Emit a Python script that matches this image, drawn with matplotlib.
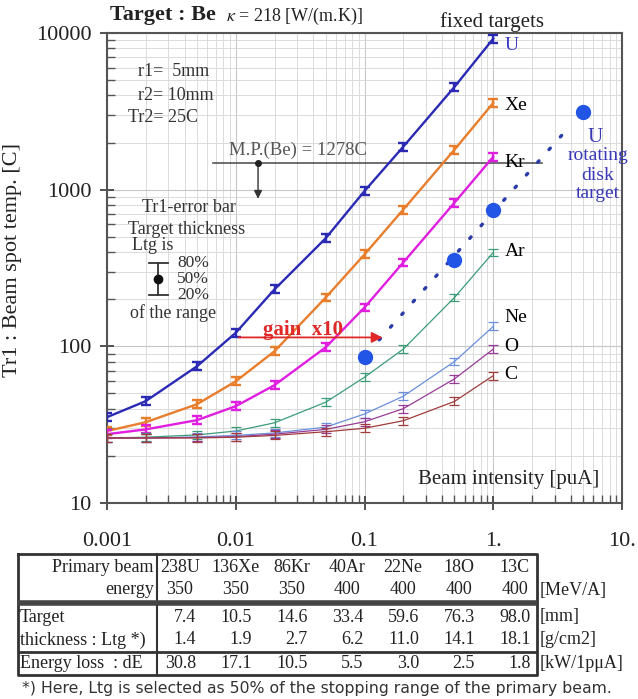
import numpy as np
import matplotlib
matplotlib.use('Agg')
import matplotlib.pyplot as plt
from matplotlib.patches import Rectangle
from matplotlib.ticker import LogLocator, NullFormatter, FixedLocator, FixedFormatter

plt.rcParams['font.family'] = ['Liberation Serif', 'DejaVu Serif']
plt.rcParams['mathtext.fontset'] = 'stix'

# beam intensity [puA]
beam_x = [0.001, 0.002, 0.005, 0.01, 0.02, 0.05, 0.1, 0.2, 0.5, 1.0]

# Tr1 beam spot temperature [C] for each fixed target curve
temp_U = [35.3, 44.7, 74.6, 122, 231, 490, 980, 1880, 4530, 9200]
temp_Xe = [28.8, 32.8, 42.7, 59.8, 93, 205, 386, 746, 1800, 3580]
temp_Kr = [27.5, 29.5, 33.8, 41.5, 56.5, 98.6, 177, 343, 826, 1620]
temp_Ar = [26.0, 26.3, 27.2, 28.8, 32.5, 44.0, 63.5, 96, 205, 397]
temp_Ne = [26.0, 26.0, 26.4, 27.0, 28.0, 30.5, 37.0, 48, 80, 134]
temp_O = [26.0, 26.0, 26.2, 26.5, 27.5, 29.5, 33.0, 40, 62, 96]
temp_C = [26.0, 26.0, 26.0, 26.3, 27.0, 28.5, 30.0, 33.5, 44.5, 65]
err_frac = 0.06

# rotating disk target (U)
disk_x = [0.1, 0.5, 1.0, 5.0]
disk_y = [86, 358, 747, 3140]
disk_line_x = [0.13, 3.7]
disk_line_y = [110, 2400]

# gain arrow and melting point
gain_x = [0.01, 0.145]
gain_y = 114
mp_x = [0.0067, 2.4]
mp_y = 1480
mp_arrow_x = 0.0149
mp_arrow_end = 840

series = [
    ('U', temp_U, '#2a2ab4', 1.7, '#3a3ac0'),
    ('Xe', temp_Xe, '#e87d2c', 1.7, 'black'),
    ('Kr', temp_Kr, '#e01ee0', 1.7, 'black'),
    ('Ar', temp_Ar, '#3c9c78', 0.9, 'black'),
    ('Ne', temp_Ne, '#6b8fdc', 0.9, 'black'),
    ('O', temp_O, '#983c98', 0.9, 'black'),
    ('C', temp_C, '#a03c3c', 0.9, 'black'),
]
label_y = {'U': 8300, 'Xe': 3450, 'Kr': 1480, 'Ar': 405, 'Ne': 152, 'O': 100, 'C': 66}

# table content
beams = ['238U', '136Xe', '86Kr', '40Ar', '22Ne', '18O', '13C']
energies = ['350', '350', '350', '400', '400', '400', '400']
thick_mm = ['7.4', '10.5', '14.6', '33.4', '59.6', '76.3', '98.0']
thick_g = ['1.4', '1.9', '2.7', '6.2', '11.0', '14.1', '18.1']
e_loss = ['30.8', '17.1', '10.5', '5.5', '3.0', '2.5', '1.8']

W, H = 638, 699
fig = plt.figure(figsize=(W / 100, H / 100), dpi=100)
ax = fig.add_axes([107 / W, 1 - 503 / H, 515 / W, 470 / H])
ax.set_xscale('log')
ax.set_yscale('log')
ax.set_xlim(0.001, 10)
ax.set_ylim(10, 10000)

ax.grid(True, which='major', color='#c8c8c8', lw=0.8)
ax.grid(True, which='minor', color='#d6d6d6', lw=0.6)
ax.set_axisbelow(True)

for name, temps, col, lw, lcol in series:
    t = np.array(temps)
    ax.plot(beam_x, t, color=col, lw=lw, zorder=3)
    ax.errorbar(beam_x, t, yerr=[t * err_frac / (1 + err_frac), t * err_frac],
                fmt='none', ecolor=col, elinewidth=lw, capsize=3.5, capthick=lw, zorder=3)
    ax.text(1.22, label_y[name], name, color=lcol, fontsize=14, va='center', ha='left')

ax.plot(disk_line_x, disk_line_y, color='#2a3aa8', lw=2.4, ls=(0, (0.6, 4.5)),
        dash_capstyle='round', zorder=3)
ax.plot(disk_x, disk_y, 'o', color='#2255e6', ms=10, zorder=4)

ax.annotate('', xy=(gain_x[1], gain_y), xytext=(gain_x[0], gain_y),
            arrowprops=dict(arrowstyle='-|>', color='#e02828', lw=1.3, mutation_scale=16), zorder=4)
ax.text(0.0333, 128, 'gain  x10', color='#e02828', fontsize=15, fontweight='bold',
        ha='center', va='center')

ax.plot(mp_x, [mp_y, mp_y], color='#555555', lw=1.2, zorder=2)
ax.plot([mp_arrow_x], [mp_y], 'o', color='#222222', ms=4, zorder=4)
ax.annotate('', xy=(mp_arrow_x, mp_arrow_end), xytext=(mp_arrow_x, mp_y),
            arrowprops=dict(arrowstyle='-|>', color='#333333', lw=1.0, mutation_scale=12))
ax.text(0.0088, 1780, 'M.P.(Be) = 1278C', color='#555555', fontsize=13.5, ha='left', va='center')

for s in ax.spines.values():
    s.set_color('#555555')
    s.set_linewidth(1.5)

ax.xaxis.set_major_locator(FixedLocator([0.001, 0.01, 0.1, 1, 10]))
ax.xaxis.set_major_formatter(FixedFormatter(['0.001', '0.01', '0.1', '1.', '10.']))
ax.xaxis.set_minor_locator(LogLocator(base=10, subs=np.arange(2, 10)))
ax.xaxis.set_minor_formatter(NullFormatter())
ax.yaxis.set_major_locator(FixedLocator([10, 100, 1000, 10000]))
ax.yaxis.set_major_formatter(FixedFormatter(['10', '100', '1000', '10000']))
ax.yaxis.set_minor_locator(LogLocator(base=10, subs=np.arange(2, 10)))
ax.yaxis.set_minor_formatter(NullFormatter())
ax.tick_params(which='major', direction='inout', length=10, width=1.3, color='#444444',
               labelsize=16, labelcolor='#222222')
ax.tick_params(which='minor', direction='in', length=6, width=1.0, color='#555555')
ax.tick_params(axis='x', which='major', pad=16)
ax.tick_params(axis='y', which='major', pad=6)

ax.set_ylabel('Tr1 : Beam spot temp. [C]', fontsize=16, color='#222222')
ax.yaxis.set_label_coords(-0.165, 0.517)
ax.text(0.955, 0.05, 'Beam intensity [puA]', transform=ax.transAxes, fontsize=15,
        ha='right', va='center', color='#222222')

# overlay in pixel coordinates for annotations and table
ov = fig.add_axes([0, 0, 1, 1], facecolor='none')
ov.set_xlim(0, W)
ov.set_ylim(H, 0)
ov.axis('off')

ov.text(110, 15, 'Target : Be', fontsize=16, fontweight='bold', va='center', color='#222222')
ov.text(226, 16, r'$\kappa$ = 218 [W/(m.K)]', fontsize=13, va='center', color='#222222')
ov.text(492, 22, 'fixed targets', fontsize=15, ha='center', va='center', color='#222222')

ov.text(138, 72, 'r1=  5mm', fontsize=13, va='center', color='#333333')
ov.text(138, 95, 'r2= 10mm', fontsize=13, va='center', color='#333333')
ov.text(128, 118, 'Tr2= 25C', fontsize=13, va='center', color='#333333')
ov.text(142, 208, 'Tr1-error bar', fontsize=13, va='center', color='#333333')
ov.text(128, 229, 'Target thickness', fontsize=13, va='center', color='#333333')
ov.text(132, 246, 'Ltg is', fontsize=13, va='center', color='#333333')
ov.plot([158, 158], [263, 295], color='#333333', lw=1.3)
ov.plot([149, 168], [263, 263], color='#333333', lw=1.3)
ov.plot([149, 168], [295, 295], color='#333333', lw=1.3)
ov.plot([158], [279], 'o', color='#111111', ms=6)
ov.text(177, 263, '80%', fontsize=12.5, va='center', color='#333333')
ov.text(177, 279, '50%', fontsize=12.5, va='center', color='#333333')
ov.text(177, 295, '20%', fontsize=12.5, va='center', color='#333333')
ov.text(130, 313, 'of the range', fontsize=13, va='center', color='#333333')

ov.text(587, 137, 'U', fontsize=15, va='center', color='#3838b8')
for txt, yy in [('rotating', 156), ('disk', 175), ('target', 194)]:
    ov.text(598, yy, txt, fontsize=14, ha='center', va='center', color='#3838b8')

# table
tl, tr, tt, tb, cdiv = 18, 537, 554, 675, 157
tc = '#333333'
ov.plot([tl, tr, tr, tl, tl], [tt, tt, tb, tb, tt], color=tc, lw=2.0)
ov.plot([cdiv, cdiv], [tt, tb], color=tc, lw=1.5)
ov.plot([tl, tr], [603, 603], color='#444444', lw=4.0, solid_capstyle='butt')
ov.plot([tl, tr], [652, 652], color=tc, lw=2.0, solid_capstyle='butt')
col_c = [180 + 55.8 * i for i in range(7)]
fs = 13
for i, c in enumerate(col_c):
    ov.text(c, 567, beams[i], fontsize=fs, ha='center', va='center', color='#222222')
    ov.text(c, 590, energies[i], fontsize=fs, ha='center', va='center', color='#222222')
    ov.text(c + 16, 617, thick_mm[i], fontsize=fs, ha='right', va='center', color='#222222')
    ov.text(c + 16, 640, thick_g[i], fontsize=fs, ha='right', va='center', color='#222222')
    ov.text(c + 16, 664, e_loss[i], fontsize=fs, ha='right', va='center', color='#222222')
ov.text(154, 567, 'Primary beam', fontsize=fs, ha='right', va='center', color='#222222')
ov.text(154, 590, 'energy', fontsize=fs, ha='right', va='center', color='#222222')
ov.text(20, 617, 'Target', fontsize=fs, ha='left', va='center', color='#222222')
clip = Rectangle((tl, 605), cdiv - tl - 1, 45, transform=ov.transData, visible=False)
ov.add_patch(clip)
t_thick = ov.text(20, 640, 'thickness : Ltg *)', fontsize=fs, ha='left', va='center',
                  color='#222222')
t_thick.set_clip_path(clip)
ov.text(20, 664, 'Energy loss  : dE', fontsize=fs, ha='left', va='center', color='#222222')
for txt, yy in [('[MeV/A]', 590), ('[mm]', 617), ('[g/cm2]', 640), (u'[kW/1p\u03bcA]', 664)]:
    ov.text(540, yy, txt, fontsize=fs, ha='left', va='center', color='#222222')

ov.text(22, 688, '*) Here, Ltg is selected as 50% of the stopping range of the primary beam.',
        fontsize=11.3, family='DejaVu Sans', ha='left', va='center', color='#333333')

fig.savefig('out.png', dpi=100)
